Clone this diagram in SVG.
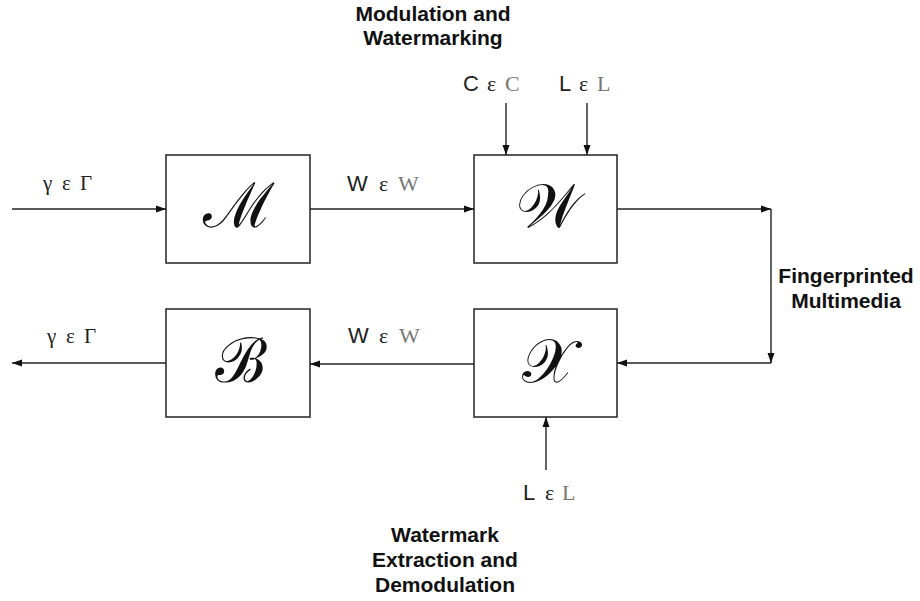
<svg xmlns="http://www.w3.org/2000/svg" width="920" height="601" viewBox="0 0 920 601">
  <style>
    .box { fill: #fff; stroke: #222; stroke-width: 1.5; }
    .wire { fill: none; stroke: #222; stroke-width: 1.4; }
    .sym { font-family: "Liberation Serif", "DejaVu Serif", serif; font-size: 62px; fill: #111; text-anchor: middle; }
    .lab { font-family: "Liberation Serif", "DejaVu Serif", serif; font-size: 22px; fill: #222; }
    .greek { font-family: "Liberation Serif", "DejaVu Serif", serif; font-size: 21px; fill: #222; }
    .sans { font-family: "Liberation Sans", Arial, sans-serif; fill: #222; }
    .bb { font-family: "Liberation Serif", serif; fill: #777; }
    .cap { font-family: "Liberation Sans", Arial, sans-serif; font-weight: bold; font-size: 21px; fill: #111; text-anchor: middle; }
  </style>
  <defs>
    <marker id="arrow" viewBox="0 0 10 8" refX="10" refY="4" markerWidth="10" markerHeight="8" markerUnits="userSpaceOnUse" orient="auto">
      <path d="M0,0.5 L10,4 L0,7.5 Z" fill="#111"/>
    </marker>
  </defs>
  <rect width="920" height="601" fill="#fff"/>

  <!-- signal paths -->
  <g id="connectors">
    <line class="wire" x1="12" y1="209" x2="166" y2="209" marker-end="url(#arrow)"/>
    <line class="wire" x1="310" y1="209" x2="474" y2="209" marker-end="url(#arrow)"/>
    <line class="wire" x1="506" y1="103" x2="506" y2="155" marker-end="url(#arrow)"/>
    <line class="wire" x1="587" y1="103" x2="587" y2="155" marker-end="url(#arrow)"/>
    <line class="wire" x1="617" y1="209" x2="771" y2="209" marker-end="url(#arrow)"/>
    <line class="wire" x1="771" y1="209" x2="771" y2="363" marker-end="url(#arrow)"/>
    <line class="wire" x1="771" y1="363" x2="617" y2="363" marker-end="url(#arrow)"/>
    <line class="wire" x1="474" y1="364" x2="310" y2="364" marker-end="url(#arrow)"/>
    <line class="wire" x1="166" y1="363" x2="12" y2="363" marker-end="url(#arrow)"/>
    <line class="wire" x1="546" y1="470" x2="546" y2="417" marker-end="url(#arrow)"/>
  </g>

  <!-- modulator -->
  <g id="node-M">
    <rect class="box" x="166" y="155" width="144" height="108"/>
    <text class="sym" x="239" y="227">ℳ</text>
  </g>
  <!-- watermark embedder -->
  <g id="node-W">
    <rect class="box" x="474" y="155" width="143" height="108"/>
    <text class="sym" x="548" y="227">𝒲</text>
  </g>
  <!-- watermark extractor -->
  <g id="node-X">
    <rect class="box" x="474" y="309" width="143" height="108"/>
    <text class="sym" x="548" y="382">𝒳</text>
  </g>
  <!-- demodulator -->
  <g id="node-B">
    <rect class="box" x="166" y="309" width="144" height="108"/>
    <text class="sym" x="241" y="382">ℬ</text>
  </g>

  <!-- edge labels -->
  <g id="labels">
    <text class="greek" y="190"><tspan x="43">γ</tspan><tspan x="62">ε</tspan><tspan x="80">Γ</tspan></text>
    <text class="lab" y="191"><tspan class="sans" x="347">W</tspan><tspan x="379">ε</tspan><tspan class="bb" x="398">W</tspan></text>
    <text class="lab" y="91"><tspan class="sans" x="463">C</tspan><tspan x="487">ε</tspan><tspan class="bb" x="505">C</tspan></text>
    <text class="lab" y="91"><tspan class="sans" x="559">L</tspan><tspan x="579">ε</tspan><tspan class="bb" x="597">L</tspan></text>
    <text class="greek" y="343"><tspan x="47">γ</tspan><tspan x="66">ε</tspan><tspan x="84">Γ</tspan></text>
    <text class="lab" y="343"><tspan class="sans" x="348">W</tspan><tspan x="379">ε</tspan><tspan class="bb" x="399">W</tspan></text>
    <text class="lab" y="500"><tspan class="sans" x="523">L</tspan><tspan x="545">ε</tspan><tspan class="bb" x="562">L</tspan></text>
  </g>

  <!-- stage captions -->
  <g id="captions">
    <text class="cap" x="433" y="21">Modulation and</text>
    <text class="cap" x="433" y="45">Watermarking</text>
    <text class="cap" x="846" y="283">Fingerprinted</text>
    <text class="cap" x="846" y="308">Multimedia</text>
    <text class="cap" x="445" y="542">Watermark</text>
    <text class="cap" x="445" y="567">Extraction and</text>
    <text class="cap" x="445" y="592">Demodulation</text>
  </g>
</svg>
